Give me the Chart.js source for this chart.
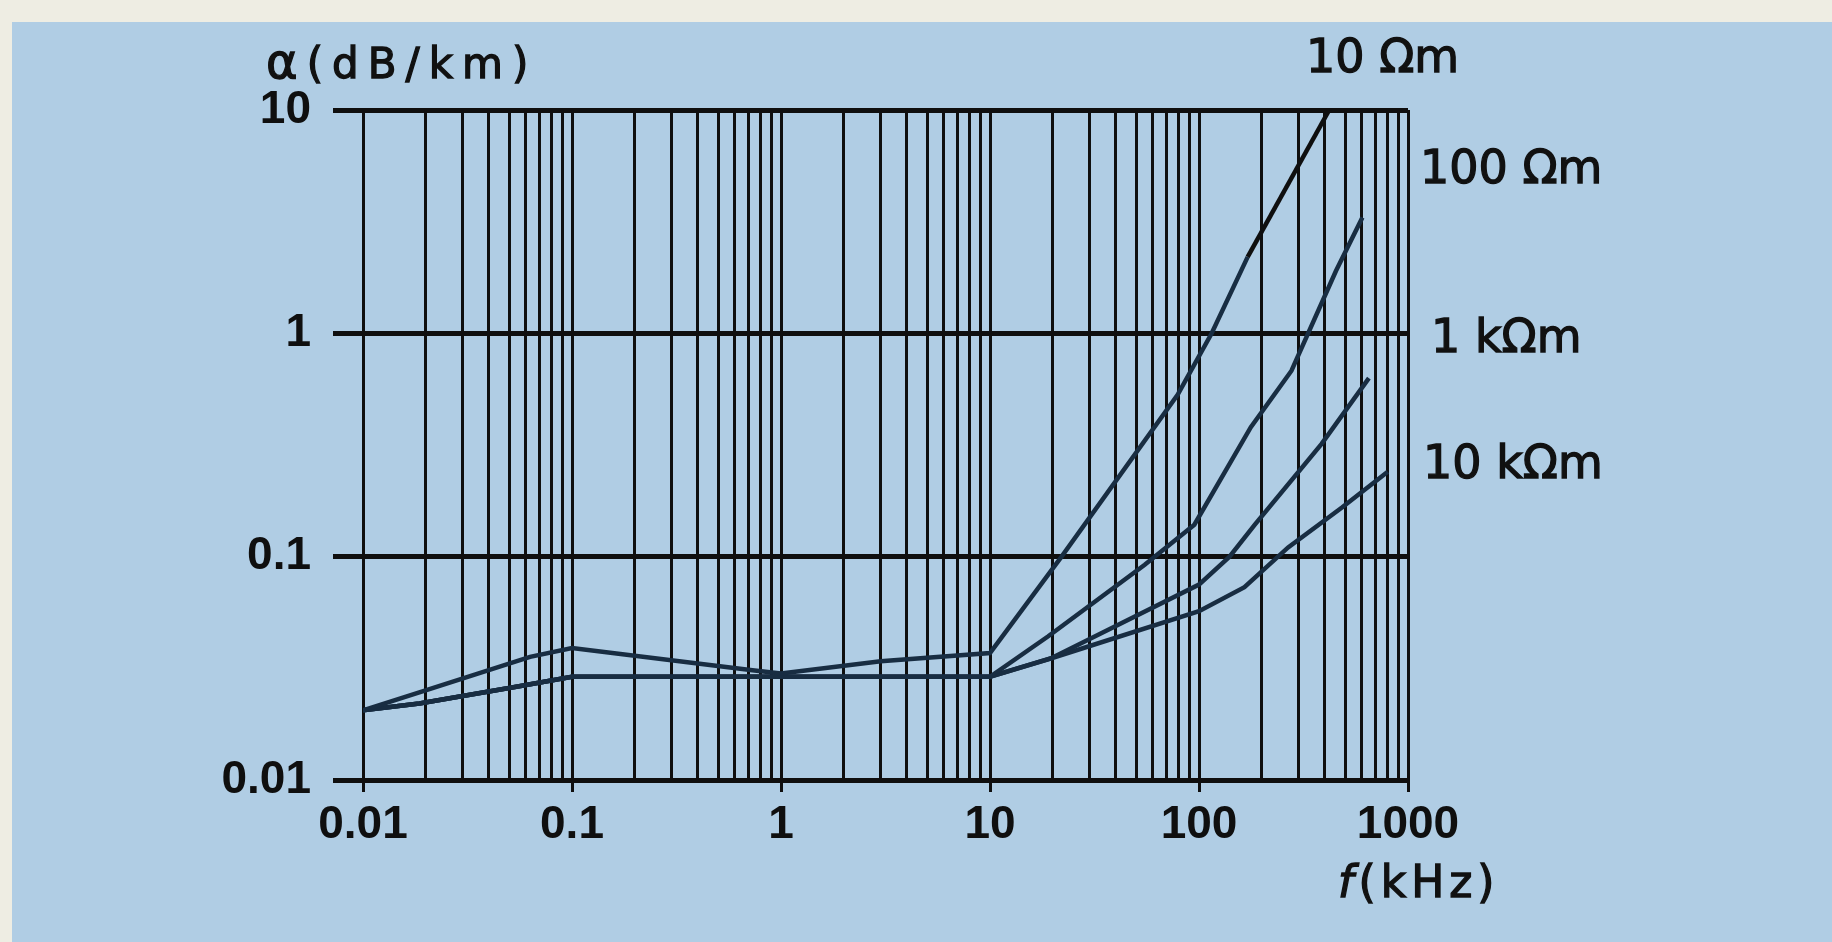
<!DOCTYPE html>
<html>
<head>
<meta charset="utf-8">
<script src="https://cdn.jsdelivr.net/npm/chart.js@4.4.1/dist/chart.umd.min.js"></script>
<style>
  body { margin: 0; width: 1832px; height: 942px; overflow: hidden; background: #eeede3; position: relative; }
  #paper { position: absolute; left: 12px; top: 22px; right: 0; bottom: 0; background: #b0cde4; }
  #myChart { position: absolute; left: 0; top: 0; }
  .lbl { position: absolute; font-family: "DejaVu Sans", sans-serif; color: #111; line-height: 1; white-space: nowrap; -webkit-text-stroke: 1.3px #111; }
</style>
</head>
<body>
<div id="paper"></div>
<canvas id="myChart" width="1832" height="942"></canvas>
<div class="lbl" style="left:266px; top:37px; font-size:42px; letter-spacing:9px;"><span style="font-size:48px;">α</span>(dB/km)</div>
<div class="lbl" style="left:1338px; top:860px; font-size:44px; letter-spacing:5px;"><i>f</i>(kHz)</div>
<div class="lbl" style="left:1306px; top:33px; font-size:46px;">10 Ωm</div>
<div class="lbl" style="left:1420px; top:144px; font-size:46px;">100 Ωm</div>
<div class="lbl" style="left:1431px; top:313px; font-size:46px;">1 kΩm</div>
<div class="lbl" style="left:1423px; top:439px; font-size:46px;">10 kΩm</div>
<script>
// frequency in kHz, attenuation in dB/km
var freq10 = [0.01, 0.0186, 0.063, 0.1, 0.73, 1, 3, 10, 22, 79, 115, 171, 420];
var alpha10 = [0.0205, 0.0247, 0.0356, 0.039, 0.031, 0.030, 0.034, 0.037, 0.1, 0.53, 1.0, 2.2, 10];

var freq100 = [0.01, 0.0186, 0.055, 0.1, 1, 10, 19, 55, 95, 177, 277, 452, 605];
var alpha100 = [0.0205, 0.022, 0.0262, 0.029, 0.029, 0.029, 0.044, 0.092, 0.139, 0.38, 0.68, 1.9, 3.3];

var freq1k = [0.01, 0.0186, 0.055, 0.1, 1, 10, 19.5, 100, 140, 185, 386, 650];
var alpha1k = [0.0205, 0.022, 0.0262, 0.029, 0.029, 0.029, 0.035, 0.075, 0.1, 0.139, 0.32, 0.63];

var freq10k = [0.01, 0.0186, 0.055, 0.1, 1, 10, 19.5, 100, 165, 267, 483, 800];
var alpha10k = [0.0205, 0.022, 0.0262, 0.029, 0.029, 0.029, 0.035, 0.057, 0.073, 0.11, 0.166, 0.24];

var xDecades = [0.01, 0.1, 1, 10, 100, 1000];
var xTickLabels = ['0.01', '0.1', '1', '10', '100', '1000'];
var yDecades = [0.01, 0.1, 1, 10];
var yTickLabels = ['0.01', '0.1', '1', '10'];

function pairs(xs, ys) {
  return xs.map(function (x, i) { return {x: x, y: ys[i]}; });
}
function isDecade(v) {
  var l = Math.log10(v);
  return Math.abs(l - Math.round(l)) < 1e-6;
}

// log paper: 1..9 in every decade
var xGrid = [];
for (var d = 0; d < xDecades.length - 1; d++) {
  for (var k = 1; k <= 9; k++) xGrid.push(xDecades[d] * k);
}
xGrid.push(xDecades[xDecades.length - 1]);

var lineColor = '#182d42';
var ink = '#0f0f0f';
var tickFont = {family: '"Liberation Sans Narrow", "Liberation Sans", sans-serif', size: 46, weight: 'bold'};

var ctx = document.getElementById('myChart').getContext('2d');
var myChart = new Chart(ctx, {
  type: 'scatter',
  data: {
    datasets: [{
        label: '10 Ωm',
        data: pairs(freq10, alpha10),
        borderColor: lineColor,
        segment: {
          borderColor: function (c) { return c.p0.parsed.x >= 170 ? ink : undefined; }
        }
      }, {
        label: '100 Ωm',
        data: pairs(freq100, alpha100),
        borderColor: lineColor
      }, {
        label: '1 kΩm',
        data: pairs(freq1k, alpha1k),
        borderColor: lineColor
      }, {
        label: '10 kΩm',
        data: pairs(freq10k, alpha10k),
        borderColor: lineColor
      }
    ]
  },
  options: {
    responsive: false,
    animation: false,
    showLine: true,
    layout: {padding: {left: 0, top: 110, right: 424, bottom: 0}},
    elements: {
      point: {radius: 0},
      line: {borderWidth: 4.5, tension: 0}
    },
    plugins: {
      legend: {display: false},
      tooltip: {enabled: false}
    },
    scales: {
      x: {
        type: 'logarithmic',
        min: 0.01,
        max: 1000,
        afterFit: function (s) { s.height = 162; },
        afterBuildTicks: function (s) {
          s.ticks = xGrid.map(function (v) { return {value: v}; });
        },
        ticks: {
          autoSkip: false,
          maxRotation: 0,
          padding: 6,
          color: ink,
          font: tickFont,
          callback: function (v) {
            return isDecade(v) ? xTickLabels[Math.round(Math.log10(v)) + 2] : '';
          }
        },
        grid: {
          color: ink,
          lineWidth: 3,
          tickLength: 12,
          tickColor: function (c) { return c.tick && isDecade(c.tick.value) ? ink : 'rgba(0,0,0,0)'; }
        },
        border: {display: true, color: ink, width: 4}
      },
      y: {
        type: 'logarithmic',
        min: 0.01,
        max: 10,
        afterFit: function (s) { s.width = 363; },
        afterBuildTicks: function (s) {
          s.ticks = yDecades.map(function (v) { return {value: v}; });
        },
        ticks: {
          padding: 22,
          color: ink,
          font: tickFont,
          callback: function (v) {
            return yTickLabels[Math.round(Math.log10(v)) + 2];
          }
        },
        grid: {
          color: ink,
          lineWidth: 5,
          tickLength: 30,
          tickColor: ink,
          tickWidth: 5
        },
        border: {display: false}
      }
    }
  }
});
</script>
</body>
</html>
